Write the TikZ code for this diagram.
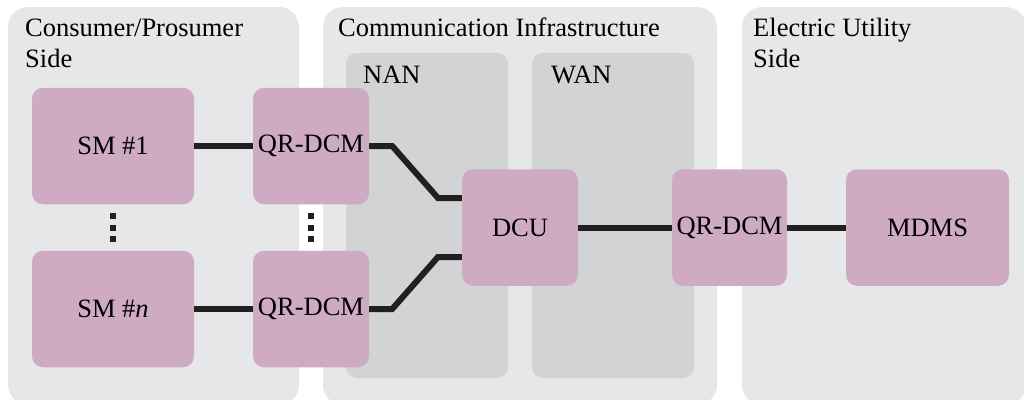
\documentclass[tikz,border=0pt]{standalone}
\usepackage{fontspec}
\setmainfont{Liberation Serif}
\definecolor{panel}{HTML}{E6E7E8}
\definecolor{inner}{HTML}{D1D3D4}
\definecolor{pinkbox}{HTML}{CFAAC3}
\definecolor{linkc}{HTML}{231F20}
\tikzset{
  panelbox/.style={fill=panel, rounded corners=20pt},
  innerbox/.style={fill=inner, rounded corners=11pt},
  unit/.style={fill=pinkbox, rounded corners=11pt, inner sep=0pt, minimum height=116.5pt, font=\fontsize{26.5}{30}\selectfont},
  title/.style={anchor=base west, inner sep=0pt, align=left, font=\fontsize{26.5}{31}\selectfont},
  link/.style={draw=linkc, line width=6pt},
  dotcol/.style={draw=linkc, line width=6pt, dash pattern=on 6pt off 5.5pt},
}
\begin{document}
\begin{tikzpicture}[x=1pt,y=-1pt]
\useasboundingbox (0,0) rectangle (1024,399);
\begin{scope}
\clip (0,0) rectangle (1024,399);
% panels
\path[panelbox] (8,7) rectangle (299,405);
\path[panelbox] (323,7) rectangle (717,405);
\path[panelbox] (742,7) rectangle (1026,405);
\path[innerbox] (346,53) rectangle (508,378);
\path[innerbox] (532,53) rectangle (694,378);
\end{scope}
% titles
\node[title] (tcons) at (25,36) {Consumer/Prosumer};
\node[title] (tcons2) at (25,67) {Side};
\node[title] (tcomm) at (338,36) {Communication Infrastructure};
\node[title] (tnan) at (363,83) {NAN};
\node[title] (twan) at (551,83) {WAN};
\node[title] (telec) at (753,36) {Electric Utility};
\node[title] (telec2) at (753,67) {Side};
% units
\node[unit, minimum width=162pt] (sm1) at (113,146) {SM \#1};
\node[unit, minimum width=162pt] (smn) at (113,309) {SM \#\textit{n}};
\node[unit, minimum width=116pt] (qr1) at (311,146) {QR-DCM};
\node[unit, minimum width=116pt] (qrn) at (311,309) {QR-DCM};
\node[unit, minimum width=116pt] (dcu) at (520,227.5) {DCU};
\node[unit, minimum width=115pt] (qr3) at (729.5,227.5) {QR-DCM};
\node[unit, minimum width=163pt] (mdms) at (927.5,227.5) {MDMS};
% connectors
\draw[link] (sm1.east) -- (qr1.west);
\draw[link] (smn.east) -- (qrn.west);
\draw[link] (qr1.east) -- ++(23,0) -- (438,198) -- ([yshift=29.5pt]dcu.west);
\draw[link] (qrn.east) -- ++(23,0) -- (438,257) -- ([yshift=-29.5pt]dcu.west);
\draw[link] (dcu.east) -- (qr3.west);
\draw[link] (qr3.east) -- (mdms.west);
% vertical ellipses
\coordinate (d1a) at (113,213);
\coordinate (d1b) at (113,242);
\coordinate (d2a) at (311,213);
\coordinate (d2b) at (311,242);
\draw[dotcol] (d1a) -- (d1b);
\draw[dotcol] (d2a) -- (d2b);
\end{tikzpicture}
\end{document}
